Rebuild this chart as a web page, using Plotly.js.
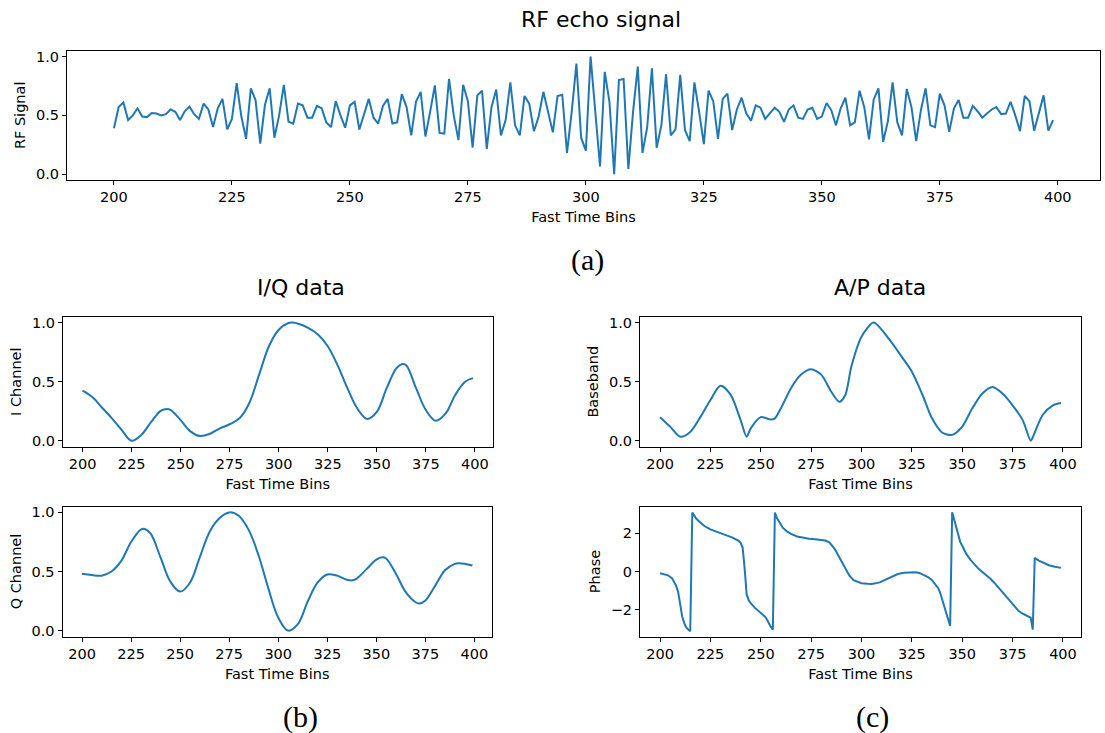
<!DOCTYPE html>
<html>
<head>
<meta charset="utf-8">
<script src="https://cdn.plot.ly/plotly-3.0.1.min.js"></script>
<style>
  html, body { margin: 0; padding: 0; background: #fff; }
  #chart { width: 1105px; height: 733px; }
</style>
</head>
<body>
<div id="chart"></div>
<script>
// Raw RF echo samples, fast-time bins 200..399
const rfStart = 200;
const rfValues = [
  0.39,0.57,0.61,0.46,0.50,0.56,0.49,0.485,0.52,0.515,
  0.50,0.51,0.55,0.53,0.46,0.535,0.575,0.51,0.47,0.60,
  0.55,0.40,0.56,0.64,0.38,0.47,0.775,0.49,0.30,0.73,
  0.63,0.26,0.59,0.73,0.31,0.50,0.76,0.445,0.43,0.60,
  0.585,0.48,0.48,0.58,0.56,0.44,0.40,0.62,0.50,0.395,
  0.585,0.615,0.38,0.515,0.64,0.48,0.43,0.58,0.64,0.43,
  0.44,0.68,0.57,0.33,0.615,0.70,0.32,0.53,0.755,0.35,
  0.345,0.81,0.50,0.29,0.76,0.62,0.225,0.67,0.71,0.215,
  0.57,0.72,0.33,0.46,0.78,0.415,0.33,0.665,0.60,0.365,
  0.49,0.70,0.53,0.355,0.665,0.675,0.18,0.53,0.94,0.31,
  0.20,1.0,0.53,0.065,0.87,0.615,0.0,0.80,0.81,0.045,
  0.53,0.915,0.18,0.40,0.90,0.225,0.415,0.85,0.33,0.38,
  0.845,0.375,0.28,0.78,0.53,0.255,0.71,0.62,0.30,0.64,
  0.685,0.375,0.55,0.65,0.515,0.455,0.585,0.565,0.47,0.52,
  0.565,0.53,0.445,0.55,0.585,0.48,0.47,0.55,0.565,0.47,
  0.49,0.605,0.545,0.415,0.56,0.65,0.415,0.44,0.71,0.57,
  0.295,0.635,0.73,0.275,0.45,0.78,0.44,0.33,0.725,0.57,
  0.28,0.545,0.73,0.415,0.40,0.685,0.585,0.36,0.56,0.63,
  0.48,0.48,0.58,0.535,0.48,0.515,0.55,0.57,0.51,0.515,
  0.615,0.50,0.365,0.665,0.62,0.37,0.515,0.67,0.37,0.46
];
const rfBins = rfValues.map((_, k) => rfStart + k);

// In-phase channel (normalised)
const iBins = [200,205,210,215,220,225,230,235,240,243,245,250,255,260,265,270,275,280,285,290,295,300,305,307,310,315,320,325,330,335,340,345,350,355,360,363,365,370,375,380,385,390,395,399];
const iValues = [0.425,0.37,0.28,0.19,0.09,0.0,0.05,0.16,0.255,0.27,0.26,0.175,0.08,0.04,0.06,0.105,0.14,0.19,0.32,0.56,0.80,0.94,0.997,1.0,0.99,0.955,0.90,0.80,0.64,0.445,0.275,0.185,0.245,0.445,0.615,0.65,0.64,0.445,0.26,0.17,0.23,0.39,0.50,0.53];

// Quadrature channel (normalised)
const qBins = [200,205,210,215,220,225,230,232,235,240,245,250,255,260,265,270,275,280,285,290,295,300,305,310,315,320,325,330,335,338,340,345,350,353,355,360,365,370,372,375,380,385,390,392,395,399];
const qValues = [0.48,0.47,0.465,0.50,0.59,0.75,0.855,0.86,0.82,0.62,0.415,0.33,0.405,0.62,0.835,0.95,1.0,0.97,0.85,0.635,0.355,0.11,0.0,0.055,0.245,0.405,0.475,0.465,0.43,0.425,0.44,0.52,0.60,0.62,0.61,0.48,0.325,0.24,0.23,0.255,0.38,0.51,0.565,0.57,0.565,0.55];

// Baseband amplitude (normalised)
const ampBins = [200,205,210,215,220,225,230,235,240,243,245,250,255,257,260,265,270,275,280,285,289,292,295,300,306,310,315,320,325,330,335,340,345,350,355,360,365,370,375,380,384,385,390,395,399];
const ampValues = [0.20,0.12,0.035,0.075,0.20,0.345,0.465,0.39,0.175,0.035,0.105,0.20,0.18,0.19,0.275,0.445,0.56,0.605,0.56,0.415,0.33,0.39,0.63,0.88,1.0,0.94,0.83,0.71,0.585,0.40,0.19,0.07,0.05,0.12,0.275,0.40,0.455,0.40,0.30,0.175,0.0,0.03,0.22,0.30,0.32];

// Baseband phase in radians (wrapped to ±π)
const phaseBins = [
  200,202,204,206,207,208,209,210,211,212,213,214,215,216,217,218,220,222,225,228,231,234,236,238,239,240,241,242,243,244,245,247,250,252,253,254,255,256,
  257,258,259,260,261,263,265,268,271,274,277,280,282,284,285,286,287,288,290,292,294,296,298,300,303,305,307,309,312,315,318,321,324,327,329,331,333,335,337,338,339,340,341,342,343,344,
  345,346,347,348,349,350,352,354,356,358,360,362,364,366,368,370,372,374,376,378,380,382,384,385,386,388,390,393,396,399
];
const phaseValues = [
  -0.09,-0.13,-0.20,-0.36,-0.52,-0.75,-1.08,-1.72,-2.35,-2.70,-2.92,-3.04,-3.12,3.08,2.88,2.76,2.56,2.38,2.20,2.07,1.96,1.85,1.77,1.68,1.60,1.50,1.25,0.15,-1.20,-1.50,-1.66,-1.89,-2.15,-2.35,-2.50,-2.72,-2.90,-3.04,
  3.08,2.80,2.61,2.42,2.28,2.10,1.97,1.83,1.76,1.71,1.69,1.66,1.62,1.52,1.42,1.28,1.12,0.93,0.50,0.10,-0.22,-0.45,-0.55,-0.61,-0.64,-0.65,-0.62,-0.57,-0.42,-0.26,-0.13,-0.06,-0.04,-0.04,-0.09,-0.17,-0.29,-0.45,-0.70,-0.86,-1.10,-1.45,-1.85,-2.25,-2.60,-2.85,
  3.10,2.70,2.25,1.85,1.55,1.35,0.92,0.62,0.37,0.15,-0.03,-0.20,-0.38,-0.60,-0.85,-1.10,-1.37,-1.63,-1.87,-2.07,-2.20,-2.30,-2.42,-3.04,0.71,0.57,0.46,0.33,0.25,0.19
];

const xTicks = [200,225,250,275,300,325,350,375,400];
const lineColor = '#1f77b4';
const font = 'DejaVu Sans, Noto Sans, sans-serif';
const serif = 'Liberation Serif, Times New Roman, serif';

function xAxis(domain, anchor) {
  return {
    domain: domain, anchor: anchor, range: [190.05, 408.95],
    tickvals: xTicks, ticks: 'outside', ticklen: 4, tickwidth: 1, tickcolor: '#000',
    showline: true, mirror: true, linecolor: '#000', linewidth: 1,
    showgrid: false, zeroline: false, automargin: false,
    tickfont: {family: font, size: 14.5, color: '#000'},
    title: {text: 'Fast Time Bins', font: {family: font, size: 14.5, color: '#000'}, standoff: 7}
  };
}
function yAxis(domain, anchor, range, tickvals, fmt, label) {
  return {
    domain: domain, anchor: anchor, range: range,
    tickvals: tickvals, tickformat: fmt, ticks: 'outside', ticklen: 4, tickwidth: 1, tickcolor: '#000',
    showline: true, mirror: true, linecolor: '#000', linewidth: 1,
    showgrid: false, zeroline: false, automargin: false,
    tickfont: {family: font, size: 14.5, color: '#000'},
    title: {text: label, font: {family: font, size: 14.5, color: '#000'}, standoff: 6}
  };
}

const W = 1105, H = 733;
const dx = (a, b) => [a / W, b / W];
const dy = (top, bottom) => [1 - bottom / H, 1 - top / H];

const traces = [
  {x: rfBins, y: rfValues, xaxis: 'x', yaxis: 'y', type: 'scatter', mode: 'lines', line: {color: lineColor, width: 2}},
  {x: iBins, y: iValues, xaxis: 'x2', yaxis: 'y2', type: 'scatter', mode: 'lines', line: {color: lineColor, width: 2, shape: 'spline', smoothing: 1}},
  {x: ampBins, y: ampValues, xaxis: 'x3', yaxis: 'y3', type: 'scatter', mode: 'lines', line: {color: lineColor, width: 2, shape: 'spline', smoothing: 0.8}},
  {x: qBins, y: qValues, xaxis: 'x4', yaxis: 'y4', type: 'scatter', mode: 'lines', line: {color: lineColor, width: 2, shape: 'spline', smoothing: 1}},
  {x: phaseBins, y: phaseValues, xaxis: 'x5', yaxis: 'y5', type: 'scatter', mode: 'lines', line: {color: lineColor, width: 2}}
];

const unit = [-0.05, 1.05];
const unitTicks = [0, 0.5, 1];

function label(text, px, py, family, size) {
  return {text: text, x: px / W, y: 1 - py / H, xref: 'paper', yref: 'paper',
          xanchor: 'center', yanchor: 'middle', showarrow: false,
          font: {family: family, size: size, color: '#000'}};
}

const layout = {
  width: W, height: H,
  margin: {l: 0, r: 0, t: 0, b: 0},
  paper_bgcolor: '#fff', plot_bgcolor: '#fff',
  showlegend: false,
  xaxis: xAxis(dx(67, 1100), 'y'),
  yaxis: yAxis(dy(50.7, 180), 'x', unit, unitTicks, '.1f', 'RF Signal'),
  xaxis2: xAxis(dx(63, 492.5), 'y2'),
  yaxis2: yAxis(dy(316.7, 446.7), 'x2', unit, unitTicks, '.1f', 'I Channel'),
  xaxis3: xAxis(dx(640, 1081), 'y3'),
  yaxis3: yAxis(dy(316.7, 446.7), 'x3', unit, unitTicks, '.1f', 'Baseband'),
  xaxis4: xAxis(dx(62.5, 492), 'y4'),
  yaxis4: yAxis(dy(506.5, 636.5), 'x4', unit, unitTicks, '.1f', 'Q Channel'),
  xaxis5: xAxis(dx(640, 1081), 'y5'),
  yaxis5: yAxis(dy(506.5, 636.5), 'x5', [-3.4, 3.4], [-2, 0, 2], 'd', 'Phase'),
  annotations: [
    label('RF echo signal', 601, 20, font, 22),
    label('I/Q data', 301, 287, font, 22),
    label('A/P data', 880, 287, font, 22),
    label('(a)', 587, 260, serif, 30),
    label('(b)', 300, 717, serif, 30),
    label('(c)', 872, 717, serif, 30)
  ]
};

Plotly.newPlot('chart', traces, layout, {staticPlot: true, displayModeBar: false});
</script>
</body>
</html>
